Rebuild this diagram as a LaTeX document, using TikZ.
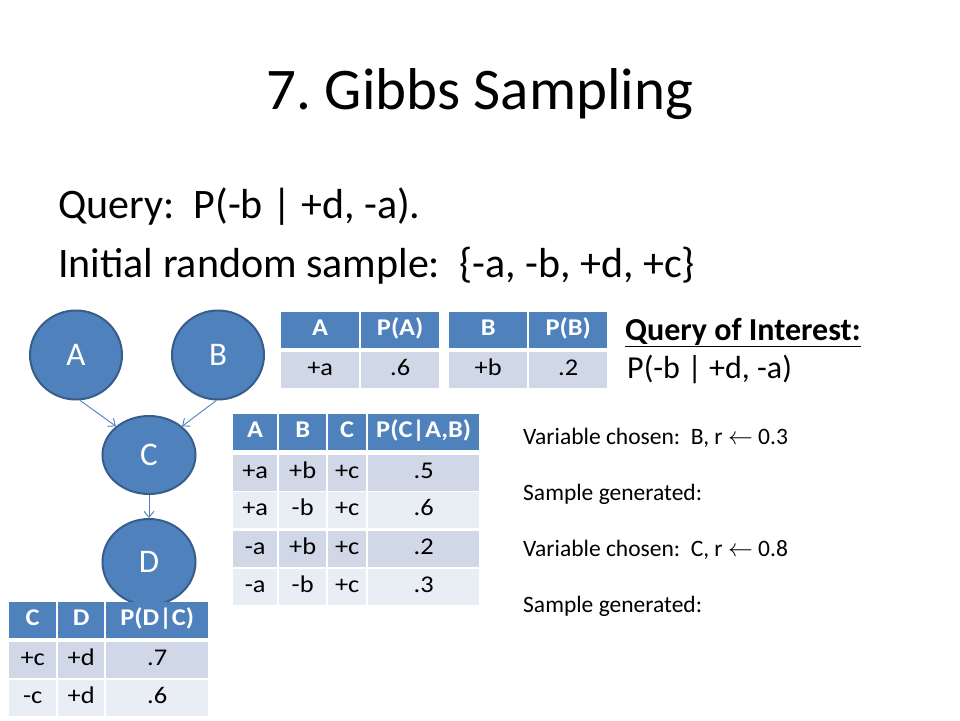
\documentclass[tikz,border=0pt]{standalone}
\usepackage{fontspec}
\setmainfont{Carlito}
\newfontfamily\cellfont[FakeStretch=1.1]{Carlito}
\usetikzlibrary{positioning,shapes.geometric,arrows.meta}
\frenchspacing

\definecolor{netblue}{HTML}{4F81BD}
\definecolor{netedge}{HTML}{385D8A}
\definecolor{rowdark}{HTML}{D0D8E8}
\definecolor{rowlight}{HTML}{E9EDF4}

\begin{document}
\begin{tikzpicture}[
  x=1pt,y=-1pt,
  netnode/.style={draw=netedge,line width=2pt,fill=netblue,ellipse,inner sep=0pt,
    text=white,font=\fontsize{33}{38}\selectfont},
  link/.style={draw=netblue,line width=0.9pt,-{Straight Barb[length=6pt,width=10pt]}},
  hcell/.style={anchor=north west,fill=netblue,text=white,inner sep=0pt,
    minimum height=36,text height=15,text depth=4,font=\fontsize{24}{28}\cellfont\bfseries},
  bcell/.style={anchor=north west,inner sep=0pt,minimum height=36,
    text height=15,text depth=4,font=\fontsize{24}{28}\cellfont},
  bigtext/.style={anchor=base west,inner sep=0pt,font=\fontsize{42}{48}\selectfont},
  steptext/.style={anchor=base west,inner sep=0pt,font=\fontsize{23.5}{28}\selectfont}
]
\useasboundingbox (0,0) rectangle (960,720);
\fill[white] (0,0) rectangle (960,720);

% title and query
\node[anchor=base,inner sep=0pt,font=\fontsize{59}{66}\selectfont] (title) at (480,109) {7. Gibbs Sampling};
\node[bigtext] (query) at (58,218) {Query:\ \ P(-b | +d, -a).};
\node[bigtext] (init) at (58,277) {Initial random sample:\ \ \{-a, -b, +d, +c\}};

% network
\node[netnode,minimum width=92,minimum height=89] (a) at (76,355) {A};
\node[netnode,minimum width=92,minimum height=89] (b) at (218,355) {B};
\node[netnode,minimum width=93,minimum height=78] (c) at (149,455) {C};
\node[netnode,minimum width=93,minimum height=86] (d) at (149,562) {D};

\draw[link] (a.-85) -- (c.139);
\draw[link] (b.-92) -- (c.41);
\draw[link] (c.south) -- (d.north);

% table P(A)
\node[hcell,minimum width=78] (pa-h1) at (281,312) {A};
\node[hcell,minimum width=78] (pa-h2) at (361,312) {P(A)};
\node[bcell,fill=rowdark,minimum width=78] (pa-1) at (281,352) {+a};
\node[bcell,fill=rowdark,minimum width=78] (pa-2) at (361,352) {.6};

% table P(B)
\node[hcell,minimum width=78] (pb-h1) at (449,312) {B};
\node[hcell,minimum width=78] (pb-h2) at (529,312) {P(B)};
\node[bcell,fill=rowdark,minimum width=78] (pb-1) at (449,352) {+b};
\node[bcell,fill=rowdark,minimum width=78] (pb-2) at (529,352) {.2};

% table P(C|A,B)
\foreach \xa/\w/\t [count=\i] in {233/44/A,279/47/B,328/38/C,{368/111/P(C|A,B)}}
  \node[hcell,minimum width=\w] (pc-h\i) at (\xa,414) {\t};
\foreach \y/\f/\ta/\tb/\tc/\td [count=\r] in
  {455/rowdark/+a/+b/+c/.5,492/rowlight/+a/-b/+c/.6,531/rowdark/-a/+b/+c/.2,569/rowlight/-a/-b/+c/.3}
{
  \node[bcell,fill=\f,minimum width=44] (pc-\r-1) at (233,\y) {\ta};
  \node[bcell,fill=\f,minimum width=47] (pc-\r-2) at (279,\y) {\tb};
  \node[bcell,fill=\f,minimum width=38] (pc-\r-3) at (328,\y) {\tc};
  \node[bcell,fill=\f,minimum width=111] (pc-\r-4) at (368,\y) {\td};
}

% table P(D|C)
\foreach \xa/\w/\t [count=\i] in {9/47/C,58/46/D,106/102/P(D|C)}
  \node[hcell,minimum width=\w] (pd-h\i) at (\xa,602) {\t};
\foreach \y/\f/\ta/\tb/\tc [count=\r] in {642/rowdark/+c/+d/.7,680/rowlight/-c/+d/.6}
{
  \node[bcell,fill=\f,minimum width=47] (pd-\r-1) at (9,\y) {\ta};
  \node[bcell,fill=\f,minimum width=46] (pd-\r-2) at (58,\y) {\tb};
  \node[bcell,fill=\f,minimum width=102] (pd-\r-3) at (106,\y) {\tc};
}

% query of interest and steps
\node[anchor=base west,inner sep=0pt,font=\fontsize{32}{38}\selectfont\bfseries] (qoi) at (625,340) {\underline{Query of Interest:}};
\node[anchor=base west,inner sep=0pt,font=\fontsize{32}{38}\selectfont] (qoi-p) at (627,378) {P(-b | +d, -a)};
\node[steptext] (step1) at (523,444) {Variable chosen:\ \ B, r \(\leftarrow\) 0.3};
\node[steptext] (step2) at (523,500) {Sample generated:};
\node[steptext] (step3) at (523,556) {Variable chosen:\ \ C, r \(\leftarrow\) 0.8};
\node[steptext] (step4) at (523,612) {Sample generated:};
\end{tikzpicture}
\end{document}
